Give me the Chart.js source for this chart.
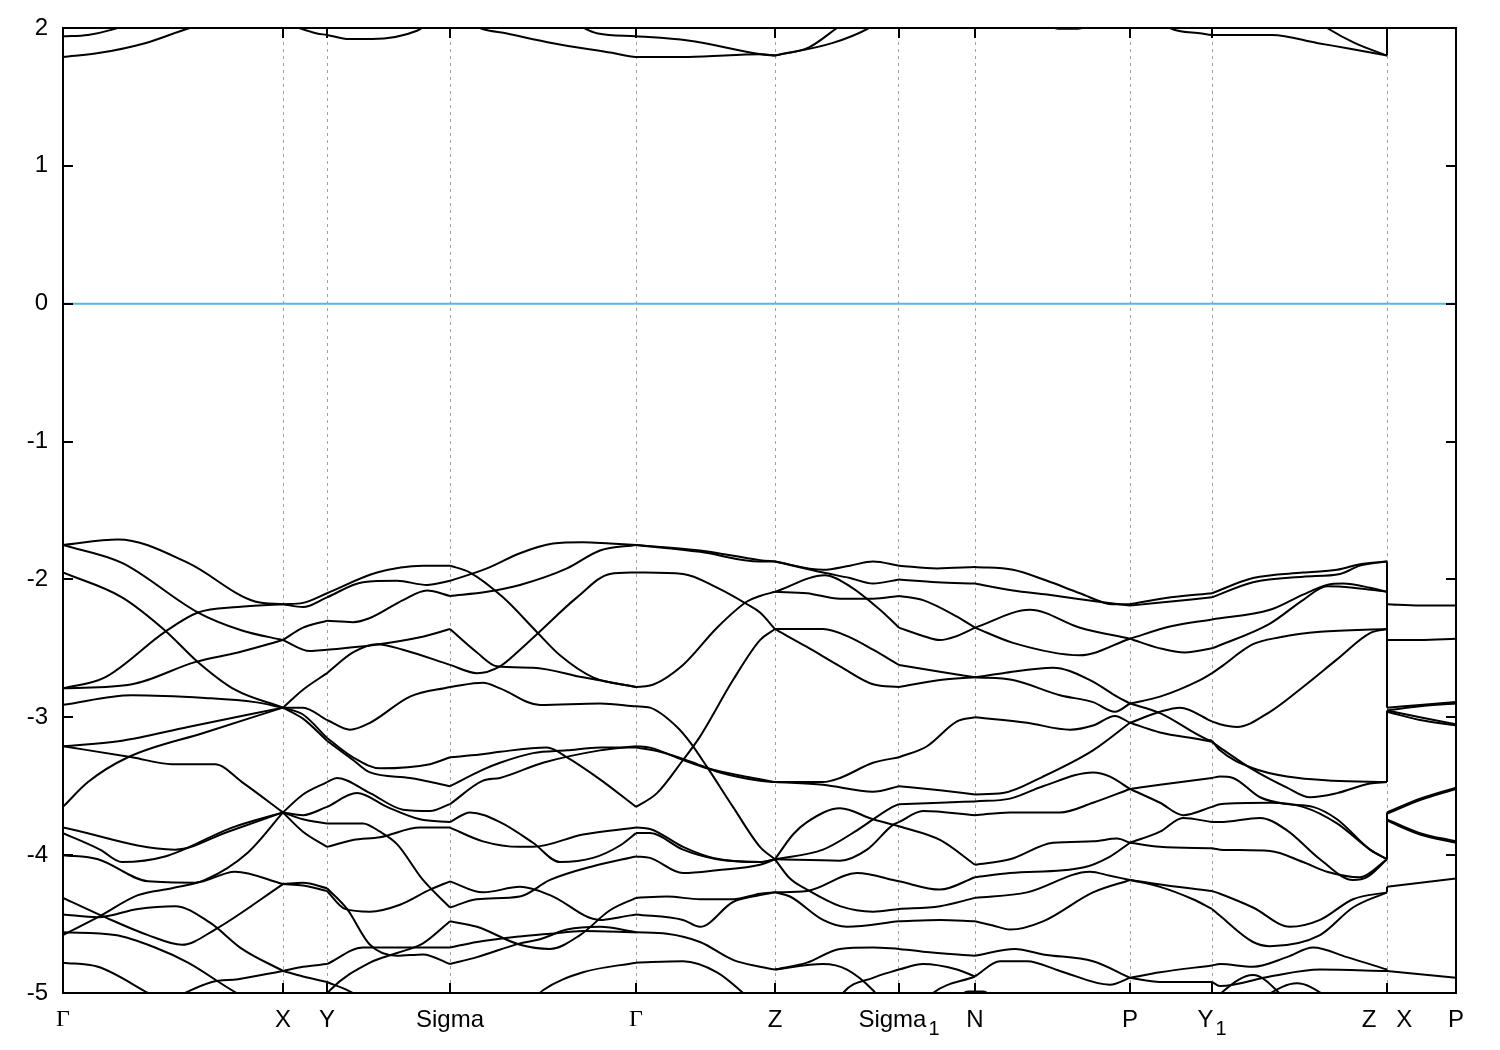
<!DOCTYPE html>
<html>
<head>
<meta charset="utf-8">
<title>Band structure</title>
<script src="https://cdn.jsdelivr.net/npm/chart.js@4.4.1/dist/chart.umd.min.js"></script>
<style>
  html, body { margin: 0; padding: 0; background: #fff; }
  canvas { display: block; }
</style>
</head>
<body>
<canvas id="bands" width="1500" height="1050"></canvas>
<script>
// high-symmetry points along the k-path and their labels ('_' marks a subscript)
const kTicks = [0, 2.20, 2.64, 3.87, 5.73, 7.12, 8.36, 9.12, 10.67, 11.49, 13.24, 13.93];
const kLabels = ['Γ', 'X', 'Y', 'Sigma', 'Γ', 'Z', 'Sigma_1', 'N', 'P', 'Y_1', 'Z   X', 'P'];
const yTicks = [2, 1, 0, -1, -2, -3, -4, -5];

// band energies in eV, as [k, E] knots, one list per path segment
const gammaX = [
  [[0,-1.75],[0.55,-1.71],[1.25,-1.88],[1.92,-2.16],[2.20,-2.18]],
  [[0,-1.75],[0.59,-1.88],[1.35,-2.24],[1.79,-2.37],[2.20,-2.44]],
  [[0,-1.95],[0.59,-2.13],[1.02,-2.37],[1.35,-2.60],[1.72,-2.80],[2.20,-2.93]],
  [[0,-2.79],[0.42,-2.71],[1.02,-2.38],[1.35,-2.24],[1.75,-2.20],[2.20,-2.18]],
  [[0,-2.79],[0.69,-2.76],[1.32,-2.60],[1.75,-2.53],[2.20,-2.44]],
  [[0,-2.91],[0.69,-2.84],[1.42,-2.86],[1.92,-2.89],[2.20,-2.93]],
  [[0,-3.21],[0.59,-3.17],[1.25,-3.07],[2.20,-2.93]],
  [[0,-3.21],[0.69,-3.29],[1.09,-3.34],[1.52,-3.34],[1.79,-3.47],[2.20,-3.69]],
  [[0,-3.65],[0.25,-3.47],[0.65,-3.29],[1.42,-3.11],[2.20,-2.93]],
  [[0,-3.80],[1.12,-3.96],[1.65,-3.83],[2.20,-3.69]],
  [[0,-3.84],[0.37,-3.96],[0.59,-4.05],[1.02,-4.01],[1.69,-3.80],[2.20,-3.69]],
  [[0,-4.00],[0.35,-4.03],[0.85,-4.19],[1.32,-4.20],[1.72,-4.12],[2.20,-4.21]],
  [[0,-4.58],[0.35,-4.45],[0.75,-4.29],[1.09,-4.24],[1.42,-4.18],[1.85,-3.98],[2.20,-3.69]],
  [[0,-4.31],[0.42,-4.45],[0.85,-4.58],[1.19,-4.65],[1.52,-4.54],[2.20,-4.21]],
  [[0,-4.43],[0.35,-4.45],[0.75,-4.39],[1.12,-4.37],[1.47,-4.49],[1.79,-4.68],[2.20,-4.84]],
  [[0,-4.56],[0.52,-4.58],[0.92,-4.67],[1.25,-4.78],[1.69,-4.98],[1.92,-5.07]],
  [[0,-4.78],[0.35,-4.81],[0.85,-5.00],[1.02,-5.07]],
  [[1.07,-5.05],[1.49,-4.92],[1.75,-4.90],[2.20,-4.84]]
];

const xY = [
  [[2.20,-2.18],[2.40,-2.17],[2.64,-2.10]],
  [[2.20,-2.18],[2.40,-2.20],[2.64,-2.13]],
  [[2.20,-2.44],[2.40,-2.35],[2.64,-2.30]],
  [[2.20,-2.44],[2.47,-2.52],[2.64,-2.51]],
  [[2.20,-2.93],[2.40,-2.80],[2.64,-2.68]],
  [[2.20,-2.93],[2.40,-2.93],[2.64,-3.02]],
  [[2.20,-2.93],[2.40,-2.98],[2.64,-3.15]],
  [[2.20,-2.93],[2.40,-3.01],[2.64,-3.17]],
  [[2.20,-3.69],[2.40,-3.56],[2.64,-3.47]],
  [[2.20,-3.69],[2.40,-3.71],[2.64,-3.65]],
  [[2.20,-3.69],[2.40,-3.74],[2.64,-3.77]],
  [[2.20,-3.69],[2.40,-3.83],[2.64,-3.94]],
  [[2.20,-4.21],[2.40,-4.20],[2.64,-4.24]],
  [[2.20,-4.21],[2.40,-4.22],[2.64,-4.26]],
  [[2.20,-4.84],[2.40,-4.81],[2.64,-4.79]],
  [[2.20,-4.84],[2.40,-4.88],[2.64,-4.92]]
];

const ySigma = [
  [[2.64,-2.10],[3.14,-1.95],[3.60,-1.90],[3.87,-1.90]],
  [[2.64,-2.13],[3.00,-2.02],[3.34,-2.01],[3.64,-2.04],[3.87,-2.01]],
  [[2.64,-2.30],[2.90,-2.31],[3.07,-2.28],[3.40,-2.15],[3.64,-2.08],[3.87,-2.12]],
  [[2.64,-2.51],[3.07,-2.48],[3.57,-2.42],[3.87,-2.36]],
  [[2.64,-2.68],[2.90,-2.53],[3.14,-2.47],[3.40,-2.51],[3.87,-2.62]],
  [[2.64,-3.02],[2.87,-3.09],[3.07,-3.04],[3.47,-2.85],[3.87,-2.78]],
  [[2.64,-3.15],[2.90,-3.29],[3.17,-3.37],[3.67,-3.34],[3.87,-3.29]],
  [[2.64,-3.17],[2.90,-3.31],[3.07,-3.40],[3.47,-3.44],[3.87,-3.50]],
  [[2.64,-3.47],[2.74,-3.44],[3.07,-3.55],[3.40,-3.67],[3.67,-3.68],[3.87,-3.63]],
  [[2.64,-3.65],[2.94,-3.55],[3.24,-3.65],[3.57,-3.74],[3.87,-3.76]],
  [[2.64,-3.77],[3.00,-3.77],[3.17,-3.83],[3.34,-3.92],[3.60,-4.18],[3.87,-4.38]],
  [[2.64,-3.94],[2.90,-3.89],[3.17,-3.87],[3.57,-3.80],[3.87,-3.80]],
  [[2.64,-4.24],[2.84,-4.39],[3.07,-4.65],[3.34,-4.73],[3.60,-4.72],[3.87,-4.79]],
  [[2.64,-4.26],[2.82,-4.39],[3.07,-4.41],[3.37,-4.36],[3.67,-4.25],[3.87,-4.19]],
  [[2.64,-4.79],[3.00,-4.67],[3.34,-4.67],[3.62,-4.67],[3.87,-4.67]],
  [[2.60,-5.05],[2.67,-4.98],[3.07,-4.78],[3.34,-4.71],[3.60,-4.64],[3.87,-4.48]],
  [[2.64,-4.92],[2.90,-5.00],[3.00,-5.05]]
];

const sigmaGamma = [
  [[3.87,-1.90],[4.07,-1.95],[4.40,-2.13],[4.75,-2.39],[4.97,-2.55],[5.30,-2.71],[5.73,-2.78]],
  [[3.87,-2.01],[4.24,-1.92],[4.57,-1.81],[4.90,-1.74],[5.20,-1.73],[5.47,-1.74],[5.73,-1.75]],
  [[3.87,-2.12],[4.24,-2.09],[4.57,-2.04],[5.04,-1.92],[5.37,-1.79],[5.73,-1.75]],
  [[3.87,-2.36],[4.14,-2.53],[4.34,-2.63],[4.70,-2.64],[5.20,-2.71],[5.73,-2.78]],
  [[3.87,-2.62],[4.14,-2.68],[4.37,-2.63],[4.57,-2.51],[4.75,-2.39],[5.14,-2.13],[5.47,-1.96],[5.73,-1.95]],
  [[3.87,-2.78],[4.20,-2.75],[4.37,-2.79],[4.77,-2.91],[5.37,-2.90],[5.73,-2.92]],
  [[3.87,-3.29],[4.17,-3.27],[4.37,-3.25],[4.84,-3.22],[5.04,-3.29],[5.37,-3.45],[5.73,-3.65]],
  [[3.87,-3.50],[4.20,-3.38],[4.37,-3.33],[4.70,-3.26],[5.04,-3.24],[5.37,-3.22],[5.73,-3.22]],
  [[3.87,-3.63],[4.20,-3.46],[4.37,-3.44],[4.80,-3.33],[5.37,-3.24],[5.73,-3.21]],
  [[3.87,-3.76],[4.07,-3.69],[4.37,-3.76],[4.70,-3.91],[4.97,-4.05],[5.30,-4.02],[5.57,-3.93],[5.73,-3.84]],
  [[3.87,-3.80],[4.20,-3.90],[4.57,-3.94],[4.70,-3.94],[5.20,-3.85],[5.73,-3.80]],
  [[3.87,-4.38],[4.14,-4.32],[4.57,-4.30],[4.87,-4.18],[5.30,-4.08],[5.73,-4.01]],
  [[3.87,-4.19],[4.20,-4.27],[4.57,-4.23],[4.87,-4.29],[5.37,-4.47],[5.57,-4.45],[5.73,-4.43]],
  [[3.87,-4.48],[4.14,-4.52],[4.57,-4.65],[4.87,-4.68],[5.17,-4.58],[5.47,-4.40],[5.73,-4.31]],
  [[3.87,-4.79],[4.14,-4.74],[4.57,-4.64],[4.77,-4.61],[5.04,-4.54],[5.37,-4.52],[5.73,-4.56]],
  [[3.87,-4.67],[4.14,-4.63],[4.57,-4.59],[4.87,-4.57],[5.20,-4.55],[5.73,-4.56]],
  [[4.70,-5.05],[4.80,-4.98],[5.20,-4.85],[5.73,-4.78]]
];

const gammaZ = [
  [[5.73,-1.75],[6.37,-1.79],[6.97,-1.86],[7.12,-1.87]],
  [[5.73,-1.75],[6.37,-1.80],[6.97,-1.87],[7.12,-1.87]],
  [[5.73,-1.95],[6.20,-1.96],[6.54,-2.06],[6.84,-2.18],[6.97,-2.24],[7.12,-2.36]],
  [[5.73,-2.78],[5.87,-2.77],[6.20,-2.62],[6.54,-2.35],[6.84,-2.16],[6.97,-2.12],[7.12,-2.09]],
  [[5.73,-2.92],[5.87,-2.93],[6.14,-3.07],[6.27,-3.18],[6.44,-3.36],[6.70,-3.65],[6.97,-3.94],[7.12,-4.03]],
  [[5.73,-3.21],[5.87,-3.22],[6.20,-3.31],[6.44,-3.37],[6.97,-3.45],[7.12,-3.47]],
  [[5.73,-3.22],[5.97,-3.25],[6.27,-3.32],[6.57,-3.40],[6.97,-3.46],[7.12,-3.47]],
  [[5.73,-3.65],[5.94,-3.55],[6.20,-3.31],[6.37,-3.14],[6.70,-2.73],[6.97,-2.44],[7.12,-2.36]],
  [[5.73,-3.84],[5.87,-3.84],[6.20,-3.96],[6.54,-4.03],[6.97,-4.05],[7.12,-4.03]],
  [[5.73,-3.80],[5.87,-3.81],[6.20,-3.94],[6.50,-4.02],[6.97,-4.05],[7.12,-4.03]],
  [[5.73,-4.01],[5.87,-4.02],[6.20,-4.13],[6.54,-4.11],[6.97,-4.07],[7.12,-4.03]],
  [[5.73,-4.31],[6.04,-4.30],[6.37,-4.32],[6.70,-4.32],[6.97,-4.28],[7.12,-4.27]],
  [[5.73,-4.43],[6.20,-4.47],[6.37,-4.52],[6.70,-4.34],[6.97,-4.29],[7.12,-4.27]],
  [[5.73,-4.56],[6.04,-4.57],[6.37,-4.63],[6.70,-4.76],[6.97,-4.81],[7.12,-4.83]],
  [[5.73,-4.78],[6.20,-4.77],[6.54,-4.85],[6.77,-4.98],[6.90,-5.07]]
];

const zSigma1 = [
  [[7.12,-1.87],[7.60,-1.93],[7.87,-1.90],[8.10,-1.87],[8.36,-1.90]],
  [[7.12,-1.87],[7.60,-1.95],[7.87,-1.99],[8.10,-2.03],[8.36,-2.00]],
  [[7.12,-2.09],[7.62,-1.97],[7.87,-2.05],[8.17,-2.22],[8.36,-2.35]],
  [[7.12,-2.09],[7.44,-2.10],[7.77,-2.14],[8.10,-2.14],[8.36,-2.12]],
  [[7.12,-2.36],[7.60,-2.36],[7.87,-2.42],[8.10,-2.51],[8.36,-2.62]],
  [[7.12,-2.36],[7.44,-2.49],[7.77,-2.63],[8.10,-2.76],[8.36,-2.78]],
  [[7.12,-3.47],[7.60,-3.49],[8.10,-3.54],[8.36,-3.50]],
  [[7.12,-3.47],[7.60,-3.47],[7.77,-3.44],[8.10,-3.33],[8.36,-3.29]],
  [[7.12,-4.03],[7.30,-3.85],[7.44,-3.76],[7.77,-3.66],[8.10,-3.74],[8.36,-3.79]],
  [[7.12,-4.03],[7.60,-3.96],[7.94,-3.82],[8.27,-3.66],[8.36,-3.63]],
  [[7.12,-4.03],[7.77,-4.04],[8.04,-3.96],[8.30,-3.78],[8.36,-3.76]],
  [[7.12,-4.03],[7.27,-4.17],[7.44,-4.25],[7.77,-4.37],[8.10,-4.41],[8.36,-4.39]],
  [[7.12,-4.27],[7.44,-4.26],[7.94,-4.13],[8.36,-4.19]],
  [[7.12,-4.27],[7.27,-4.30],[7.60,-4.47],[7.84,-4.52],[8.36,-4.48]],
  [[7.12,-4.83],[7.44,-4.78],[7.77,-4.68],[8.10,-4.67],[8.36,-4.68]],
  [[7.12,-4.83],[7.60,-4.79],[7.84,-4.83],[8.10,-4.98],[8.20,-5.07]],
  [[7.75,-5.07],[7.80,-5.00],[8.10,-4.89],[8.36,-4.83]]
];

const sigma1N = [
  [[8.36,-1.90],[8.74,-1.92],[9.12,-1.91]],
  [[8.36,-2.00],[8.74,-2.02],[9.12,-2.03]],
  [[8.36,-2.35],[8.60,-2.41],[8.77,-2.44],[8.94,-2.41],[9.12,-2.35]],
  [[8.36,-2.12],[8.60,-2.15],[8.94,-2.27],[9.12,-2.35]],
  [[8.36,-2.62],[8.77,-2.67],[9.12,-2.71]],
  [[8.36,-2.78],[8.77,-2.73],[9.12,-2.71]],
  [[8.36,-3.50],[8.77,-3.53],[9.12,-3.56]],
  [[8.36,-3.29],[8.64,-3.21],[8.94,-3.03],[9.12,-3.00]],
  [[8.36,-3.79],[8.77,-3.89],[9.12,-4.07]],
  [[8.36,-3.63],[8.77,-3.62],[9.12,-3.61]],
  [[8.36,-3.76],[8.60,-3.68],[9.12,-3.71]],
  [[8.36,-4.39],[8.77,-4.37],[9.12,-4.31]],
  [[8.36,-4.19],[8.77,-4.25],[9.12,-4.16]],
  [[8.36,-4.48],[8.77,-4.47],[9.12,-4.48]],
  [[8.36,-4.68],[8.60,-4.70],[9.12,-4.73]],
  [[8.36,-4.83],[8.60,-4.79],[8.94,-4.83],[9.12,-4.88]],
  [[8.64,-5.05],[8.70,-5.00],[9.12,-4.88]],
  [[8.90,-5.06],[9.05,-4.99],[9.20,-4.99],[9.35,-5.06]]
];

const nP = [
  [[9.12,-1.91],[9.50,-1.93],[9.84,-2.01],[10.17,-2.10],[10.50,-2.18],[10.67,-2.18]],
  [[9.12,-2.03],[9.50,-2.08],[9.84,-2.11],[10.34,-2.16],[10.67,-2.19]],
  [[9.12,-2.35],[9.67,-2.22],[10.17,-2.35],[10.67,-2.43]],
  [[9.12,-2.35],[9.50,-2.46],[10.17,-2.55],[10.67,-2.43]],
  [[9.12,-2.71],[9.50,-2.73],[9.97,-2.84],[10.30,-2.89],[10.52,-2.96],[10.67,-2.90]],
  [[9.12,-2.71],[9.40,-2.68],[9.90,-2.64],[10.27,-2.73],[10.54,-2.85],[10.67,-2.90]],
  [[9.12,-3.00],[9.64,-3.04],[10.07,-3.09],[10.30,-3.06],[10.52,-2.99],[10.67,-3.04]],
  [[9.12,-3.56],[9.40,-3.55],[9.80,-3.43],[10.30,-3.24],[10.67,-3.04]],
  [[9.12,-3.61],[9.47,-3.59],[9.80,-3.50],[10.30,-3.40],[10.47,-3.43],[10.67,-3.52]],
  [[9.12,-3.71],[9.47,-3.69],[9.97,-3.69],[10.30,-3.62],[10.67,-3.52]],
  [[9.12,-4.07],[9.47,-4.03],[9.90,-3.91],[10.30,-3.90],[10.54,-3.88],[10.67,-3.91]],
  [[9.12,-4.16],[9.47,-4.13],[10.20,-4.09],[10.47,-4.01],[10.67,-3.91]],
  [[9.12,-4.31],[9.64,-4.27],[10.27,-4.12],[10.47,-4.15],[10.67,-4.18]],
  [[9.12,-4.48],[9.30,-4.51],[9.47,-4.54],[9.80,-4.48],[10.30,-4.27],[10.67,-4.18]],
  [[9.12,-4.73],[9.52,-4.68],[9.80,-4.72],[10.30,-4.77],[10.67,-4.89]],
  [[9.12,-4.88],[9.37,-4.77],[9.64,-4.77],[9.97,-4.84],[10.47,-4.94],[10.67,-4.89]]
];

const pY1 = [
  [[10.67,-2.18],[11.08,-2.13],[11.49,-2.10]],
  [[10.67,-2.19],[11.08,-2.16],[11.49,-2.13]],
  [[10.67,-2.43],[11.08,-2.34],[11.49,-2.29]],
  [[10.67,-2.43],[10.97,-2.50],[11.22,-2.53],[11.49,-2.50]],
  [[10.67,-2.90],[10.97,-2.85],[11.37,-2.73],[11.49,-2.68]],
  [[10.67,-3.04],[10.97,-2.96],[11.17,-2.93],[11.49,-3.03]],
  [[10.67,-2.90],[10.97,-2.97],[11.44,-3.16],[11.49,-3.17]],
  [[10.67,-3.04],[10.97,-3.11],[11.44,-3.17],[11.49,-3.18]],
  [[10.67,-3.52],[10.97,-3.49],[11.49,-3.44]],
  [[10.67,-3.52],[10.97,-3.62],[11.20,-3.71],[11.49,-3.65]],
  [[10.67,-3.91],[10.97,-3.83],[11.20,-3.73],[11.49,-3.76]],
  [[10.67,-3.91],[10.97,-3.94],[11.49,-3.95]],
  [[10.67,-4.18],[11.04,-4.22],[11.49,-4.26]],
  [[10.67,-4.18],[10.97,-4.23],[11.30,-4.32],[11.49,-4.39]],
  [[10.67,-4.89],[10.97,-4.85],[11.49,-4.80]],
  [[10.67,-4.89],[10.97,-4.92],[11.49,-4.92]]
];

const y1Z = [
  [[11.49,-2.10],[11.90,-1.99],[12.40,-1.95],[12.74,-1.93],[12.97,-1.89],[13.24,-1.87]],
  [[11.49,-2.13],[11.90,-2.02],[12.40,-1.98],[12.77,-1.96],[12.97,-1.90],[13.24,-1.87]],
  [[11.49,-2.29],[12.07,-2.22],[12.40,-2.11],[12.64,-2.04],[12.80,-2.03],[13.07,-2.06],[13.24,-2.09]],
  [[11.49,-2.50],[12.07,-2.32],[12.40,-2.15],[12.64,-2.05],[12.90,-2.06],[13.24,-2.09]],
  [[11.49,-2.68],[11.57,-2.64],[11.90,-2.47],[12.17,-2.42],[12.57,-2.38],[13.24,-2.36]],
  [[11.49,-3.03],[11.57,-3.05],[11.74,-3.07],[12.07,-2.96],[12.40,-2.78],[12.74,-2.58],[13.07,-2.39],[13.24,-2.36]],
  [[11.49,-3.17],[11.57,-3.24],[11.90,-3.37],[12.24,-3.43],[12.70,-3.46],[13.24,-3.47]],
  [[11.49,-3.18],[11.57,-3.22],[11.90,-3.38],[12.24,-3.51],[12.47,-3.58],[12.74,-3.55],[13.07,-3.48],[13.24,-3.47]],
  [[11.49,-3.44],[11.57,-3.43],[11.70,-3.44],[11.97,-3.58],[12.24,-3.63],[12.50,-3.65],[12.74,-3.74],[13.07,-3.96],[13.24,-4.03]],
  [[11.49,-3.65],[11.57,-3.63],[12.07,-3.62],[12.40,-3.65],[12.74,-3.77],[13.07,-3.96],[13.24,-4.03]],
  [[11.49,-3.76],[11.57,-3.76],[11.97,-3.73],[12.24,-3.82],[12.57,-4.03],[12.90,-4.18],[13.04,-4.16],[13.24,-4.03]],
  [[11.49,-3.95],[11.57,-3.96],[12.07,-3.97],[12.40,-4.05],[12.64,-4.12],[12.97,-4.16],[13.24,-4.03]],
  [[11.49,-4.26],[11.57,-4.28],[11.90,-4.38],[12.27,-4.52],[12.57,-4.47],[12.90,-4.32],[13.24,-4.27]],
  [[11.49,-4.39],[11.57,-4.44],[11.90,-4.63],[12.07,-4.66],[12.57,-4.58],[12.90,-4.38],[13.24,-4.27]],
  [[11.49,-4.80],[11.57,-4.79],[11.90,-4.81],[12.24,-4.74],[12.50,-4.67],[12.84,-4.74],[13.24,-4.83]],
  [[11.49,-4.92],[11.57,-4.95],[12.07,-4.88],[12.57,-4.83],[13.24,-4.84]],
  [[11.45,-5.07],[11.90,-4.87],[12.27,-5.07]],
  [[11.90,-5.07],[12.34,-4.93],[12.74,-5.07]]
];

const xP = [
  [[13.24,-2.18],[13.57,-2.19],[13.93,-2.19]],
  [[13.24,-2.44],[13.57,-2.44],[13.93,-2.43]],
  [[13.24,-2.93],[13.57,-2.91],[13.93,-2.89]],
  [[13.24,-2.95],[13.57,-2.92],[13.93,-2.90]],
  [[13.24,-2.95],[13.57,-3.00],[13.93,-3.05]],
  [[13.24,-2.96],[13.57,-3.02],[13.93,-3.06]],
  [[13.24,-3.69],[13.57,-3.59],[13.93,-3.51]],
  [[13.24,-3.70],[13.57,-3.60],[13.93,-3.52]],
  [[13.24,-3.74],[13.57,-3.84],[13.93,-3.90]],
  [[13.24,-3.75],[13.57,-3.85],[13.93,-3.91]],
  [[13.24,-4.23],[13.93,-4.17]],
  [[13.24,-4.84],[13.93,-4.89]]
];

// conduction bands dipping below 2 eV
const conduction = [
  [[0,1.94],[0.25,1.95],[0.50,1.99],[0.65,2.03]],
  [[0,1.79],[0.37,1.82],[0.82,1.89],[1.27,2.00],[1.45,2.03]],
  [[2.25,2.03],[2.36,2.00],[2.54,1.96],[2.64,1.95],[2.86,1.92],[3.09,1.92],[3.54,1.98],[3.65,2.03]],
  [[4.10,2.03],[4.17,2.00],[4.44,1.96],[4.90,1.89],[5.49,1.82],[5.73,1.79],[6.25,1.79],[6.98,1.81],[7.12,1.80]],
  [[5.14,2.03],[5.21,2.00],[5.35,1.96],[5.73,1.94],[6.25,1.91],[6.98,1.81],[7.12,1.80]],
  [[7.12,1.80],[7.46,1.86],[7.74,2.00],[7.80,2.03]],
  [[7.12,1.80],[7.69,1.89],[8.06,2.00],[8.12,2.03]],
  [[9.85,2.02],[9.95,1.995],[10.15,1.995],[10.27,2.02]],
  [[11.02,2.03],[11.07,2.00],[11.39,1.96],[11.49,1.95],[12.09,1.95],[12.55,1.89],[12.87,1.85],[13.24,1.80]],
  [[12.58,2.03],[12.64,2.00],[12.92,1.89],[13.24,1.80]]
];

// energy at Z and at X for the bands that jump at the Z|X break
const zxJumps = [[1.80,2.05],[-1.87,-2.18],[-2.09,-2.44],[-2.36,-2.93],[-3.47,-2.95],
                 [-4.03,-3.69],[-4.03,-3.74],[-4.27,-4.23],[-4.83,-4.84]];

const fermi = 0;

document.addEventListener('DOMContentLoaded', () => {
    const ctx = document.getElementById('bands').getContext('2d');
    const sans = '"Liberation Sans", Arial, Helvetica, sans-serif';
    const serif = '"Liberation Serif", "Times New Roman", serif';

    const bandSet = pts => ({
        data: pts.map(([x, y]) => ({ x, y })),
        borderColor: '#000',
        borderWidth: 2,
        cubicInterpolationMode: 'monotone'
    });

    const datasets = [{
        data: [{ x: 0, y: fermi }, { x: kTicks[kTicks.length - 1], y: fermi }],
        borderColor: '#56b4e9',
        borderWidth: 2
    }];
    [gammaX, xY, ySigma, sigmaGamma, gammaZ, zSigma1, sigma1N, nP, pY1, y1Z, xP, conduction]
        .forEach(seg => seg.forEach(pts => datasets.push(bandSet(pts))));
    zxJumps.forEach(([ez, ex]) => datasets.push({
        data: [{ x: kTicks[10], y: ez }, { x: kTicks[10], y: ex }],
        borderColor: '#000',
        borderWidth: 2,
        tension: 0
    }));

    const framePlugin = {
        id: 'frame',
        afterDraw(chart) {
            const { ctx, chartArea: a, scales: { x, y } } = chart;
            ctx.save();
            ctx.strokeStyle = '#000';
            ctx.lineWidth = 2;
            ctx.strokeRect(a.left, a.top, a.right - a.left, a.bottom - a.top);
            ctx.beginPath();
            kTicks.forEach(k => {
                const px = Math.round(x.getPixelForValue(k));
                ctx.moveTo(px, a.bottom); ctx.lineTo(px, a.bottom - 10);
                ctx.moveTo(px, a.top); ctx.lineTo(px, a.top + 10);
            });
            yTicks.forEach(v => {
                const py = Math.round(y.getPixelForValue(v));
                ctx.moveTo(a.left, py); ctx.lineTo(a.left + 10, py);
                ctx.moveTo(a.right, py); ctx.lineTo(a.right - 10, py);
            });
            ctx.stroke();

            ctx.fillStyle = '#000';
            ctx.textBaseline = 'middle';
            ctx.textAlign = 'right';
            ctx.font = '24px ' + sans;
            yTicks.forEach(v => ctx.fillText(String(v), a.left - 15, y.getPixelForValue(v)));

            ctx.textAlign = 'left';
            const ly = a.bottom + 27;
            kLabels.forEach((lab, i) => {
                const [main, sub] = lab.split('_');
                const mainFont = main === 'Γ' ? '24px ' + serif : '24px ' + sans;
                const subFont = '20px ' + sans;
                ctx.font = mainFont;
                const w1 = ctx.measureText(main).width;
                let w2 = 0;
                if (sub) { ctx.font = subFont; w2 = ctx.measureText(sub).width + 2; }
                const left = x.getPixelForValue(kTicks[i]) - (w1 + w2) / 2;
                ctx.font = mainFont;
                ctx.fillText(main, left, ly);
                if (sub) { ctx.font = subFont; ctx.fillText(sub, left + w1 + 2, ly + 9); }
            });
            ctx.restore();
        }
    };

    new Chart(ctx, {
        type: 'scatter',
        data: { datasets },
        options: {
            responsive: false,
            devicePixelRatio: 1,
            animation: false,
            showLine: true,
            layout: { padding: { left: 63, right: 44, top: 28, bottom: 57 } },
            elements: {
                point: { radius: 0, hoverRadius: 0 },
                line: { capBezierPoints: false, fill: false }
            },
            plugins: { legend: { display: false }, tooltip: { enabled: false } },
            scales: {
                x: {
                    type: 'linear',
                    min: 0,
                    max: kTicks[kTicks.length - 1],
                    afterBuildTicks: scale => { scale.ticks = kTicks.map(v => ({ value: v })); },
                    ticks: { display: false },
                    grid: { color: '#a0a0a0', lineWidth: 1, drawTicks: false },
                    border: { display: false, dash: [3, 4] }
                },
                y: {
                    type: 'linear',
                    min: -5,
                    max: 2,
                    ticks: { display: false },
                    grid: { display: false, drawTicks: false },
                    border: { display: false }
                }
            }
        },
        plugins: [framePlugin]
    });
});
</script>
</body>
</html>
